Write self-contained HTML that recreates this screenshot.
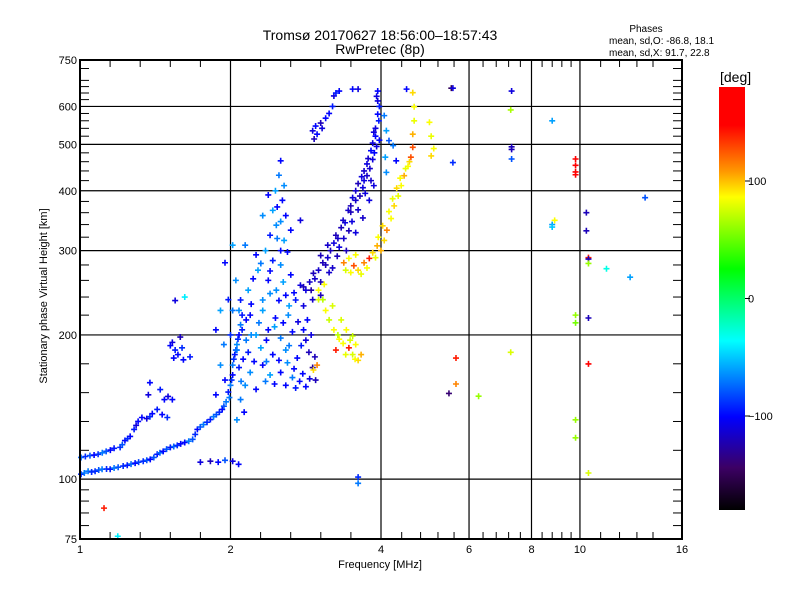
<!DOCTYPE html>
<html><head><meta charset="utf-8"><style>
body{margin:0;background:#fff;}
svg{display:block;font-family:"Liberation Sans",sans-serif;}
</style></head><body>
<svg id="chart" width="800" height="600" xmlns="http://www.w3.org/2000/svg">
<rect width="800" height="600" fill="#fff"/>
<text x="380" y="40" text-anchor="middle" font-size="14">Tromsø 20170627 18:56:00–18:57:43</text>
<text x="380" y="54" text-anchor="middle" font-size="14">RwPretec (8p)</text>
<text x="646" y="32" text-anchor="middle" font-size="10">Phases</text>
<text x="609" y="44" font-size="10">mean, sd,O: -86.8, 18.1</text>
<text x="609" y="56" font-size="10">mean, sd,X:  91.7, 22.8</text>
<text x="380" y="568" text-anchor="middle" font-size="11">Frequency [MHz]</text>
<text transform="translate(47,296) rotate(-90)" text-anchor="middle" font-size="11">Stationary phase Virtual Height [km]</text>
<defs><linearGradient id="cmap" x1="0" y1="1" x2="0" y2="0">
<stop offset="0" stop-color="#000"/><stop offset="0.1" stop-color="#3c0064"/><stop offset="0.22" stop-color="#0000ff"/>
<stop offset="0.4" stop-color="#00ffff"/><stop offset="0.57" stop-color="#00ff00"/><stop offset="0.74" stop-color="#ffff00"/>
<stop offset="0.8" stop-color="#ff9900"/><stop offset="0.91" stop-color="#ff0000"/><stop offset="1" stop-color="#ff0000"/>
</linearGradient></defs>
<rect x="719" y="87" width="26" height="423" fill="url(#cmap)"/>
<text x="720" y="82" font-size="14">[deg]</text>
<g id="grid"></g><g id="pts"></g><g id="axes"></g>
</svg>
<script>
const xTickLabels=[1,2,4,6,8,10,16];
const yTickLabels=[75,100,200,300,400,500,600,750];
const cbTicks=[100,0,-100];
const lowerTrace=[[1.005,102.4,-90],[1.02,103,-70],[1.038,103.9,-70],[1.055,103.5,-90],[1.072,103.9,-90],[1.09,104.5,-80],[1.107,104.9,-70],[1.13,105,-90],[1.149,104.9,-95],[1.17,105.5,-70],[1.192,105.9,-80],[1.22,106.5,-90],[1.243,106.9,-95],[1.265,107.5,-75],[1.289,108,-100],[1.31,108.5,-85],[1.338,109,-90],[1.36,109.5,-80],[1.382,110,-100],[1.405,111,-80],[1.427,112.7,-95],[1.445,113.5,-75],[1.467,114.3,-100],[1.49,115.5,-80],[1.516,116.5,-95],[1.54,117,-75],[1.565,117.6,-90],[1.59,118.5,-100],[1.62,119.3,-100],[1.65,120,-70],[1.68,121.1,-80],[1.7,124,-90],[1.717,127,-100],[1.74,128.5,-80],[1.766,130,-70],[1.795,131.5,-90],[1.823,133.2,-95],[1.85,135,-70],[1.874,136.4,-80],[1.9,138,-90],[1.925,139.8,-100],[1.94,142,-80],[1.96,145,-70],[1.98,152,-95],[1.99,148,-70],[2.0,157,-70],[2.01,161,-90],[2.02,165,-100],[2.02,173,-70],[2.03,178,-90],[2.04,182,-95],[2.05,186,-80],[2.06,191,-65],[2.07,196,-90],[2.08,200,-100],[2.095,210,-70],[2.11,220,-95]];
const upperTrace=[[1.005,111,-75],[1.025,111.5,-90],[1.047,112,-80],[1.067,112.3,-100],[1.087,112.7,-90],[1.108,113.5,-70],[1.128,114.3,-80],[1.15,115,-100],[1.17,116,-95],[1.203,116.5,-90],[1.215,118,-80],[1.23,120.4,-100],[1.245,121.5,-90],[1.26,122.8,-100],[1.283,127,-95],[1.295,129.5,-110],[1.307,132,-100],[1.33,134.5,-100],[1.36,133.8,-110],[1.38,135,-90],[1.395,137,-100],[1.427,139.8,-95],[1.46,136.4,-100],[1.495,134.5,-90],[1.475,146.6,-100],[1.5,148.8,-110],[1.53,146.6,-100],[1.447,153.8,-95],[1.38,159,-100],[1.37,150,-110],[1.516,190,-100],[1.55,186,-95],[1.57,182,-100],[1.53,193,-110],[1.61,177.5,-100],[1.66,180,-95],[1.587,198,-120],[1.54,179,-100],[1.6,188,-90],[1.55,236,-110],[1.62,240,-40],[1.117,87,150],[1.19,76,-40]];
const lowBlob=[[1.741,108.5,-110],[1.823,109,-120],[1.89,108.5,-100],[1.95,109.5,-80],[2.02,109,-110],[2.076,107.4,-100],[3.6,101,-90],[3.6,98,-70],[5.47,151,-140]];
const cloud=[[2.52,462,-100],[2.5,431,-70],[2.46,400,-60],[2.54,382,-100],[2.43,364,-60],[2.58,355,-100],[2.47,339,-65],[2.4,323,-95],[2.56,315,-60],[2.64,331,-100],[2.76,347,-110],[2.14,308,-70],[2.25,294,-100],[2.35,300,-60],[2.43,286,-95],[2.52,280,-65],[2.64,267,-100],[2.76,254,-110],[2.27,273,-60],[2.38,260,-100],[2.47,248,-65],[2.58,242,-100],[2.7,236.6,-95],[2.17,248,-60],[2.095,236.6,-95],[2.32,236.6,-65],[2.83,248,-110],[2.92,237,-115],[3.03,242,-120],[2.08,225,-65],[2.19,220,-100],[2.32,225,-60],[2.46,217,-100],[2.61,220,-65],[2.73,213,-110],[2.11,205,-95],[2.25,200,-60],[2.38,205,-100],[2.52,197,-70],[2.66,203,-100],[2.83,195,-110],[2.06,186,-70],[2.17,184,-95],[2.3,188,-60],[2.43,182,-100],[2.58,186,-65],[2.72,179,-100],[2.87,184,-120],[2.08,171,-95],[2.19,167,-65],[2.32,173,-100],[2.4,165,-60],[2.52,167,-100],[2.66,163,-70],[2.79,166,-100],[2.92,171,-130],[2.14,157,-65],[2.25,154,-100],[2.58,157,-100],[2.7,155,-95],[2.83,156,-100],[2.96,161,-120],[2.095,146.6,-70],[2.13,138,-100],[2.06,133,-65],[1.95,161,-100],[1.91,173,-65],[1.87,150,-100],[2.38,392,-100],[2.32,355,-65],[2.02,308,-60],[1.95,283,-100],[2.05,260,-65],[1.98,237,-95],[1.91,225,-60],[1.87,205,-100],[1.94,191,-70],
[2.2,232,-100],[2.28,212,-70],[2.36,195,-100],[2.45,208,-60],[2.55,212,-100],[2.62,190,-70],[2.5,177,-100],[2.36,176,-70],[2.23,176,-100],[2.15,195,-70],[2.22,262,-100],[2.3,282,-70],[2.4,272,-100],[2.55,258,-60],[2.68,245,-100],[2.8,230,-110],[2.85,215,-100],[2.9,200,-110],[2.77,190,-95],[2.68,170,-100],[2.6,175,-65],[2.75,160,-100],[2.88,162,-110],[2.45,158,-100],[2.35,160,-70],[2.62,230,-60],[2.5,236,-100],[2.4,244,-65],[2.52,300,-100],[2.48,318,-70],[2.6,298,-100],[2.52,345,-65],[2.48,370,-100],[2.56,410,-65],[2.12,178,-100],[2.1,160,-70],[2.15,215,-100],[2.2,200,-65],[2.0,200,-90],[2.02,225,-70],[2.8,205,-100],[2.95,180,-120]];
const topCluster=[[2.92,533.7,-110],[2.96,546,-100],[3.03,554,-120],[3.1,567,-100],[3.2,600,-95],[3.22,631,-110],[3.3,646,-100],[3.51,652,-100],[3.6,652,-110],[2.94,513,-120],[2.98,525,-100],[3.05,540,-110],[3.15,580,-100],[3.25,640,-95]];
const oTrace=[[2.8,252,-120],[2.88,258,-115],[2.93,269,-120],[3.0,273,-115],[3.06,283,-120],[3.13,290,-115],[3.17,300,-120],[3.22,311,-110],[3.28,318,-115],[3.33,335,-120],[3.39,343,-110],[3.44,364,-115],[3.48,372,-120],[3.51,387,-110],[3.56,400,-115],[3.6,414,-120],[3.66,428,-110],[3.7,440,-115],[3.75,455,-110],[3.77,467,-115],[3.82,485,-100],[3.85,503,-110],[3.9,520,-100],[3.9,540,-110],[3.94,578,-100],[3.94,616,-110],[3.94,646,-100],[3.96,560,-95],[3.03,293,-120],[3.13,308,-115],[3.25,323,-120],[3.36,347,-115],[3.48,361,-120],[3.56,382,-115],[3.68,406,-110],[3.75,430,-115],[2.9,248,-125],[3.03,258,-120],[3.2,276,-115],[3.41,300,-120],[3.56,327,-110],[3.68,351,-115],[3.79,382,-110],[3.87,410,-110],
[2.95,262,-115],[3.1,280,-120],[3.15,270,-115],[3.27,292,-120],[3.3,305,-110],[3.37,318,-115],[3.45,330,-120],[3.5,345,-110],[3.6,365,-115],[3.63,390,-120],[3.72,395,-110],[3.82,420,-115],[3.7,420,-110],[3.8,445,-115],[3.85,465,-110],[3.88,480,-100],[3.92,495,-110],[3.97,510,-100],[3.87,530,-110],[3.97,600,-95],[3.92,630,-110],
[4.06,574,-70],[4.1,534,-60],[4.15,509,-80],[4.08,470,-60],[4.23,497,-70],[4.29,462,-100],[4.1,437,-65],[4.5,652,-100],[5.53,655,-150]];
const xTrace=[[4.63,641,110],[4.66,599,100],[4.66,560,95],[4.63,525,120],[4.63,493,140],[5.0,556,100],[5.04,520,95],[5.1,490,100],[5.04,473,110],[4.0,300,120],[4.06,315,110],[4.11,331,130],[4.19,350,100],[4.25,372,110],[4.33,390,95],[4.39,410,100],[4.45,430,120],[4.53,450,100],[4.59,470,140],[3.37,283,130],[3.45,289,100],[3.53,279,140],[3.6,273,110],[3.7,283,130],[3.79,289,150],[3.85,297,110],[3.56,294,100],[3.4,273,90],[3.93,307,120],[3.0,248,100],[3.06,237,80],[3.1,225,100],[3.15,215,85],[3.22,205,100],[3.28,200,80],[3.36,192,100],[3.45,188,150],[3.51,182,90],[3.6,177,110],[3.33,215,90],[3.41,205,100],[3.51,199,85],[3.56,191,100],[3.65,182,120],[3.25,186,150],[3.0,237,90],[2.93,169,110],[2.98,173,130],
[3.95,320,100],[4.03,338,110],[4.15,362,100],[4.22,385,95],[4.3,405,110],[4.37,425,100],[4.48,445,95],[4.56,460,110],[3.48,270,100],[3.65,268,95],[3.75,276,100],[3.9,290,95],[3.08,255,100],[3.2,230,90],[3.3,196,100],[3.4,182,95],[3.55,178,100],[3.47,195,90]];
const farPoints=[[5.57,655,-110],[7.3,646,-110],[7.27,590,75],[8.8,560,-60],[7.3,494,-120],[7.3,488,-120],[7.3,466,-80],[5.57,458,-90],[9.8,466,160],[9.8,452,170],[9.8,438,170],[9.8,432,160],[13.5,387,-80],[10.3,360,-120],[10.3,330,-120],[8.9,347,100],[8.8,340,-60],[8.8,336,-50],[10.4,290,150],[10.4,288,-120],[10.4,282,70],[11.3,275,-30],[12.6,264,-60],[9.8,220,70],[9.8,212,60],[10.4,217,-120],[5.65,179,150],[7.27,184,90],[10.4,174,170],[5.65,158,130],[6.27,149,70],[9.8,133,70],[9.8,122,70],[10.4,103,90]];

const NS='http://www.w3.org/2000/svg';
const L=80,R=682,T=60,B=539;
const xs=f=>L+Math.log2(f)*(R-L)/4;
const ys=h=>B-Math.log10(h/75)*(B-T);
const cbY=p=>87+(180-p)/360*423;
const stops=[[0,[0,0,0]],[0.1,[60,0,100]],[0.22,[0,0,255]],[0.4,[0,255,255]],[0.57,[0,255,0]],[0.78,[255,255,0]],[0.85,[255,153,0]],[0.93,[255,0,0]],[1,[255,0,0]]];
function col(p){const t=Math.max(0,Math.min(1,(p+180)/360));for(let i=1;i<stops.length;i++){if(t<=stops[i][0]){const a=stops[i-1],b=stops[i],u=(t-a[0])/(b[0]-a[0]);const c=a[1].map((v,k)=>Math.round(v+(b[1][k]-v)*u));return `rgb(${c})`;}}return 'red';}
function mk(tag,at,par){const e=document.createElementNS(NS,tag);for(const k in at)e.setAttribute(k,at[k]);par.appendChild(e);return e;}
const grid=document.getElementById('grid'),axes=document.getElementById('axes'),pts=document.getElementById('pts');
[2,4,6,8,10].forEach(f=>{const l=mk('line',{x1:xs(f),x2:xs(f),y1:T,y2:B,stroke:'#000','stroke-width':1.2},grid);

});
[100,200,300,400,500,600].forEach(h=>{const l=mk('line',{x1:L,x2:R,y1:ys(h),y2:ys(h),stroke:'#000','stroke-width':1.2},grid);

});
const xMinor=[];for(let k=1;k<10;k++)xMinor.push(Math.pow(2,k/5));[4.4,4.8,5.2,5.6,6.4,6.8,7.2,7.6,8.4,8.8,9.2,9.6,11,12,13,14].forEach(v=>xMinor.push(v));
xMinor.forEach(f=>{mk('line',{x1:xs(f),x2:xs(f),y1:T,y2:T+7,stroke:'#000'},axes);mk('line',{x1:xs(f),x2:xs(f),y1:B,y2:B-7,stroke:'#000'},axes);});
const yMinor=[80,85,90,95];for(let k=1;k<5;k++)yMinor.push(100*Math.pow(2,k/5));for(let h=220;h<740;h+=20){if(h%100)yMinor.push(h);}
yMinor.forEach(h=>{mk('line',{x1:L,x2:L+9,y1:ys(h),y2:ys(h),stroke:'#000'},axes);mk('line',{x1:R,x2:R-9,y1:ys(h),y2:ys(h),stroke:'#000'},axes);});
const frame=mk('rect',{x:L,y:T,width:R-L,height:B-T,fill:'none',stroke:'#000','stroke-width':2},axes);


xTickLabels.forEach(f=>{const t=mk('text',{x:xs(f),y:553,'text-anchor':'middle','font-size':11},axes);t.textContent=f;

});
yTickLabels.forEach(h=>{const t=mk('text',{x:L-3,y:ys(h)+4,'text-anchor':'end','font-size':11},axes);t.textContent=h;

});
cbTicks.forEach(p=>{mk('line',{x1:745,x2:750,y1:cbY(p),y2:cbY(p),stroke:'#000'},axes);const t=mk('text',{x:748,y:cbY(p)+4,'font-size':11},axes);t.textContent=p===-100?'−100':p;

});
const groups=[['lower-o-trace',lowerTrace],['upper-o-trace',upperTrace],['low-blob',lowBlob],['spread-cloud',cloud],['top-cluster',topCluster],['f-o-trace',oTrace],['x-trace',xTrace],['scattered-points',farPoints]];
groups.forEach(([name,arr])=>{const g=mk('g',{},pts);


arr.forEach(([f,h,p])=>{const x=xs(f),y=ys(h),c=col(p);
const s=mk('path',{d:`M${x-3} ${y}h6M${x} ${y-3}v6`,stroke:c,'stroke-width':1.6},g);

});});
</script>
</body></html>
